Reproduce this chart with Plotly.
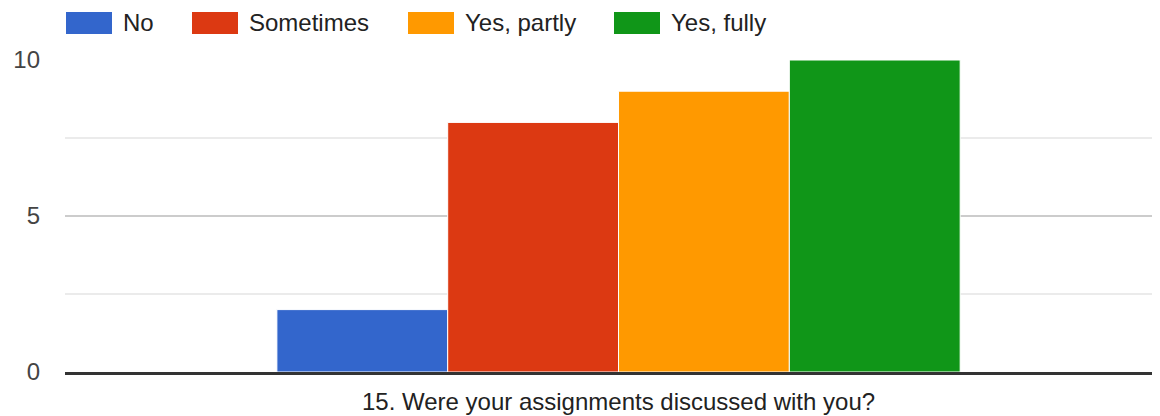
import plotly.graph_objects as go

# ---- data ----
question = ["15. Were your assignments discussed with you?"]
answers = ["No", "Sometimes", "Yes, partly", "Yes, fully"]
counts = [2, 8, 9, 10]
colors = ["#3366cc", "#dc3912", "#ff9900", "#109618"]
y_ticks = [0, 5, 10]

# ---- layout constants (page body has an 8px margin) ----
OFF = 8
W, H = 1160 - OFF, 416 - OFF
ML, MR, MT, MB = 65 - OFF, 0, 60 - OFF, 44
PW = W - ML - MR
PH = H - MT - MB
FONT = "Liberation Sans, Arial, sans-serif"
FS = 24

fig = go.Figure()
for name, val, col in zip(answers, counts, colors):
    fig.add_trace(go.Bar(
        x=question, y=[val], name=name,
        marker=dict(color=col, line=dict(color="white", width=1)),
        showlegend=False,
    ))

# custom legend (wide swatches like the reference); pixel positions in page coords
legend_px = [66, 192, 408, 614]
sw_w, sw_h, sw_top = 46, 22, 12
plot_left = ML + OFF
plot_bottom = MT + OFF + PH
shapes = []
annotations = []
for name, col, lx in zip(answers, colors, legend_px):
    x0 = (lx - plot_left) / PW
    x1 = (lx + sw_w - plot_left) / PW
    y0 = (plot_bottom - (sw_top + sw_h)) / PH
    y1 = (plot_bottom - sw_top) / PH
    shapes.append(dict(type="rect", xref="paper", yref="paper",
                       x0=x0, x1=x1, y0=y0, y1=y1,
                       fillcolor=col, line=dict(width=0), layer="above"))
    annotations.append(dict(xref="paper", yref="paper",
                            x=(lx + sw_w + 9 - plot_left) / PW,
                            y=(plot_bottom - (sw_top + sw_h / 2)) / PH,
                            text=name, showarrow=False, xanchor="left",
                            yanchor="middle",
                            font=dict(family=FONT, size=FS, color="#222222")))

fig.update_layout(
    width=W, height=H,
    margin=dict(l=ML, r=MR, t=MT, b=MB, pad=0),
    paper_bgcolor="white", plot_bgcolor="white",
    barmode="group", bargap=0.376, bargroupgap=0,
    font=dict(family=FONT, size=FS, color="#222222"),
    shapes=shapes, annotations=annotations,
    showlegend=False,
)
fig.update_xaxes(
    type="category", range=[-0.5055, 0.4945],
    showgrid=False, zeroline=False,
    showline=True, linecolor="#333333", linewidth=3,
    ticks="", ticklabelstandoff=6,
    tickfont=dict(family=FONT, size=FS, color="#222222"),
)
fig.update_yaxes(
    range=[0, 10], tickvals=y_ticks, ticktext=[str(v) for v in y_ticks],
    showgrid=True, gridcolor="#cccccc", gridwidth=2,
    zeroline=False, showline=False, ticks="",
    ticklabelstandoff=24,
    tickfont=dict(family=FONT, size=FS, color="#444444"),
    minor=dict(dtick=2.5, tick0=0, showgrid=True, gridcolor="#ebebeb", gridwidth=2),
)

fig.write_html("out.html")
